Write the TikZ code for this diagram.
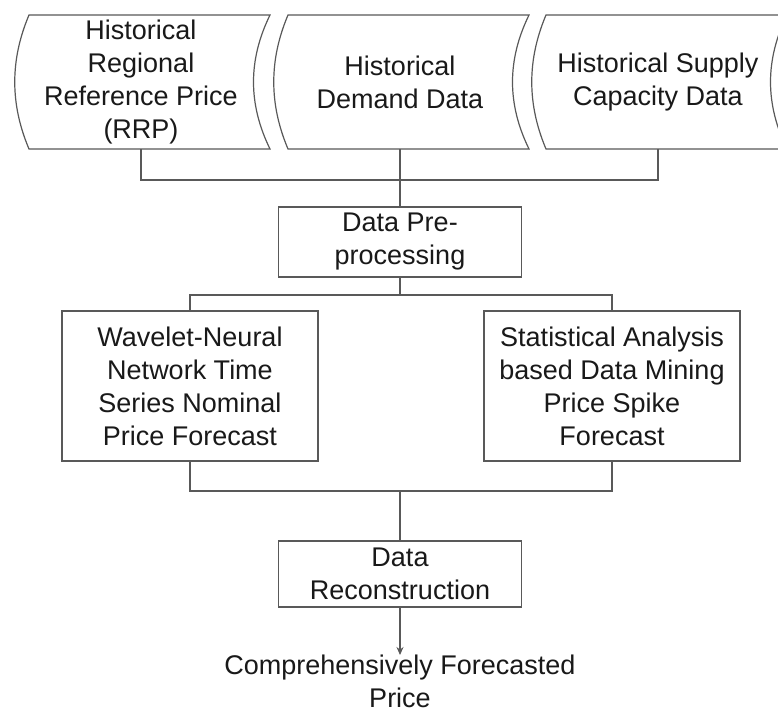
\documentclass[tikz,border=0pt]{standalone}
\usepackage{fontspec}
\setmainfont{Liberation Sans}
\usetikzlibrary{arrows.meta,calc,positioning}

\begin{document}
\begin{tikzpicture}[x=1pt,y=-1pt,
  line/.style={draw=black!65,line width=1.2pt},
  txt/.style={align=center,text=black!90,font=\fontsize{27}{33}\selectfont,inner sep=0pt},
  data/.style={txt,minimum width=240,minimum height=134},
  box/.style={txt,line}]
\fill[white] (0,0) rectangle (778,712);
\useasboundingbox (0,0) rectangle (778,712);
\clip (0,0) rectangle (778,712);

\node[data] (rrp) at (141,82) {Historical\\Regional\\Reference Price\\(RRP)};
\node[data] (demand) at (400,82) {Historical\\Demand Data};
\node[data] (supply) at (658,82) {Historical Supply\\Capacity Data};
\foreach \n in {rrp,demand,supply}
  \draw[line] ($(\n.center)+(-112,-67)$) -- ($(\n.center)+(129,-67)$)
    .. controls ($(\n.center)+(107,-22)$) and ($(\n.center)+(107,22)$) .. ($(\n.center)+(129,67)$)
    -- ($(\n.center)+(-112,67)$)
    .. controls ($(\n.center)+(-131,22)$) and ($(\n.center)+(-131,-22)$) .. ($(\n.center)+(-112,-67)$)
    -- cycle;

\node[box,minimum width=243,minimum height=70] (prep) at (400,242) {Data Pre-\\processing};
\node[box,minimum width=256,minimum height=150] (wnn) at (190,386) {Wavelet-Neural\\Network Time\\Series Nominal\\Price Forecast};
\node[box,minimum width=256,minimum height=150] (spike) at (612,386) {Statistical Analysis\\based Data Mining\\Price Spike\\Forecast};
\node[box,minimum width=243,minimum height=66] (recon) at (400,574) {Data\\Reconstruction};
\node[txt,anchor=north] (price) at (400,655) {Comprehensively Forecasted\\Price};

\coordinate (bus1) at (400,180);
\coordinate (bus2) at (400,295);
\coordinate (bus3) at (400,491);

\draw[line] (rrp.south) |- (bus1) -| (supply.south);
\draw[line] (demand.south) -- (prep.north);
\draw[line] (prep.south) -- (bus2);
\draw[line] (wnn.north) |- (bus2) -| (spike.north);
\draw[line] (wnn.south) |- (bus3) -| (spike.south);
\draw[line] (bus3) -- (recon.north);
\draw[line,-{Stealth[length=8pt,width=7pt]}] (recon.south) -- (price.north);

\end{tikzpicture}
\end{document}
